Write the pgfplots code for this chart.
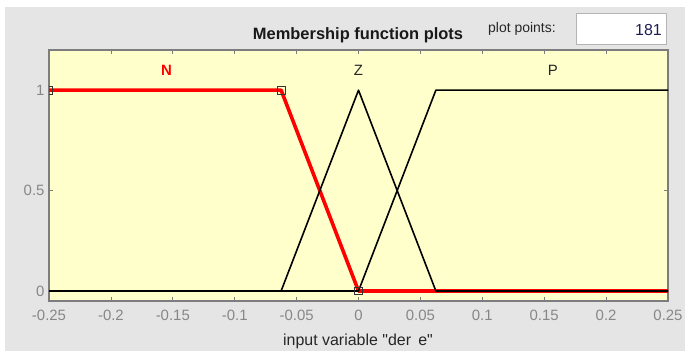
\documentclass[border=0pt]{standalone}
\usepackage{fontspec}
\setmainfont{Liberation Sans}[Ligatures=TeXOff]
\usepackage{pgfplots}
\pgfplotsset{compat=1.18}

\definecolor{panelgray}{RGB}{229,229,229}
\definecolor{plotbg}{RGB}{255,255,204}
\definecolor{axgray}{RGB}{125,125,125}
\definecolor{ticktext}{RGB}{135,135,135}
\definecolor{mfred}{RGB}{255,0,0}
\definecolor{editbox}{RGB}{180,180,180}
\definecolor{numtext}{RGB}{30,30,80}

\begin{document}
\begin{tikzpicture}
% figure panel
\useasboundingbox (0bp,0bp) rectangle (685bp,351bp);
\fill[white] (0bp,0bp) rectangle (685bp,351bp);
\fill[panelgray] (5bp,0bp) rectangle (685bp,344bp);

% "plot points" edit field
\node[anchor=west, inner sep=0, font=\fontsize{14}{16}\selectfont, text=black!85] at (488bp,322bp) {plot points:};
\draw[editbox, fill=white, line width=1bp] (576bp,306bp) rectangle (666bp,337bp);
\node[anchor=east, inner sep=0, font=\fontsize{16}{18}\selectfont, text=numtext] at (662bp,321bp) {181};

\begin{axis}[
  at={(49bp,50bp)}, anchor=south west,
  scale only axis, width=619bp, height=251bp,
  xmin=-0.25, xmax=0.25, ymin=-0.05, ymax=1.2,
  axis background/.style={fill=plotbg},
  axis line style={axgray, line width=1.3bp},
  xtick={-0.25,-0.2,-0.15,-0.1,-0.05,0,0.05,0.1,0.15,0.2,0.25},
  xticklabels={-0.25,-0.2,-0.15,-0.1,-0.05,0,0.05,0.1,0.15,0.2,0.25},
  ytick={0,0.5,1},
  yticklabels={0,0.5,1},
  tick align=inside,
  xtick pos=both, ytick pos=both,
  major tick length=4bp,
  tick style={axgray, line width=0.8bp},
  ticklabel style={text=ticktext, font=\fontsize{15}{17}\selectfont},
  xticklabel style={yshift=-6bp},
  yticklabel style={xshift=-1bp},
  clip marker paths=true,
]
% N (selected)
\addplot[mfred, line width=3.6bp, line join=round] coordinates {(-0.25,1) (-0.0625,1) (0,0) (0.25,0)};
% Z
\addplot[black, line width=1.6bp, line join=round] coordinates {(-0.25,0) (-0.0625,0) (0,1) (0.0625,0) (0.25,0)};
% P
\addplot[black, line width=1.6bp, line join=round] coordinates {(-0.25,0) (0,0) (0.0625,1) (0.25,1)};
% parameter handles of the selected function
\addplot[only marks, mark=square, mark size=3.9bp, black!80, line width=1bp] coordinates {(-0.25,1) (-0.0625,1) (0,0)};

\node[text=mfred, font=\fontsize{15}{17}\selectfont\bfseries] at (axis cs:-0.155,1.10) {N};
\node[text=black!85, font=\fontsize{15}{17}\selectfont] at (axis cs:0,1.10) {Z};
\node[text=black!85, font=\fontsize{15}{17}\selectfont] at (axis cs:0.157,1.10) {P};
\end{axis}

% title and axis label
\node[font=\fontsize{16.5}{18}\selectfont\bfseries, text=black!90] at (358bp,316bp) {Membership function plots};
\node[font=\fontsize{16}{18}\selectfont, text=black!85] at (358bp,10bp) {input variable "der\hspace{0.45em}e"};
\end{tikzpicture}
\end{document}
